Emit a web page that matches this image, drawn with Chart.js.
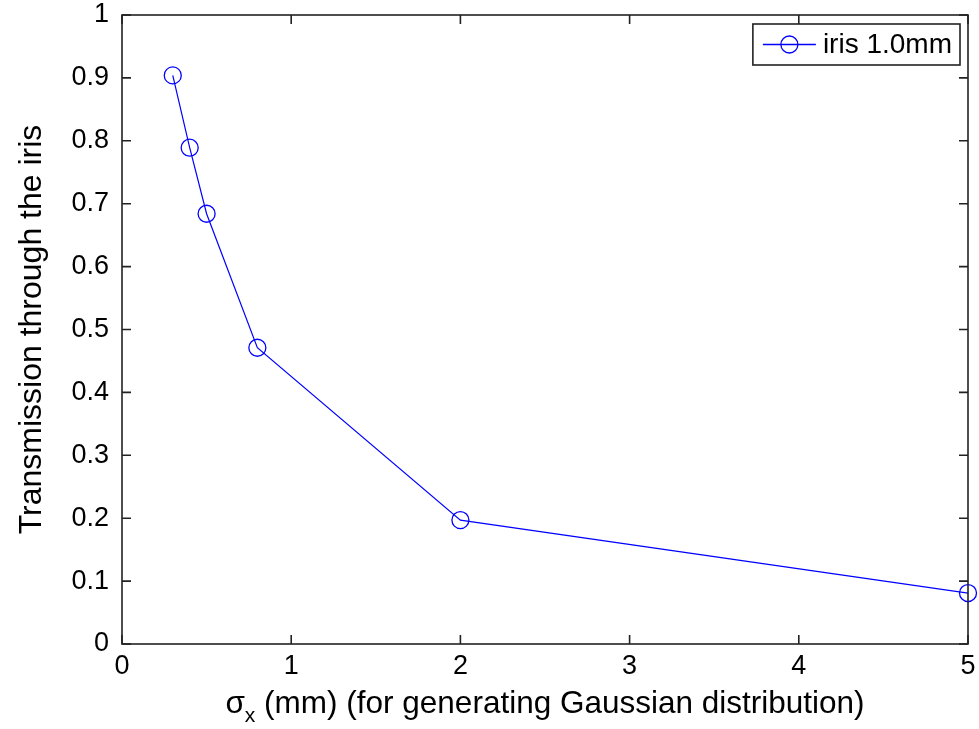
<!DOCTYPE html>
<html>
<head>
<meta charset="utf-8">
<script src="https://cdn.jsdelivr.net/npm/chart.js@4"></script>
<style>
  body { margin: 0; background: #fff; }
  #wrap { width: 979px; height: 729px; }
</style>
</head>
<body>
<div id="wrap"><canvas id="chart" width="979" height="729"></canvas></div>
<script>
// data
const sigmaX = [0.3, 0.4, 0.5, 0.8, 2, 5];
const transmission = [0.904, 0.789, 0.684, 0.471, 0.197, 0.081];
const xTicks = [0, 1, 2, 3, 4, 5];
const yTicks = [0, 0.1, 0.2, 0.3, 0.4, 0.5, 0.6, 0.7, 0.8, 0.9, 1];
const seriesLabel = "iris 1.0mm";
const yTitle = "Transmission through the iris";

const FONT = "'Liberation Sans', Arial, Helvetica, sans-serif";
Chart.defaults.font.family = FONT;
Chart.defaults.color = "#000";

// box round the axes with inward ticks on all four sides (matlab style)
const boxPlugin = {
    id: "box",
    afterDraw(c) {
        const ctx = c.ctx;
        const a = c.chartArea;
        const xs = c.scales.x, ys = c.scales.y;
        const tl = 9;
        ctx.save();
        ctx.strokeStyle = "#222";
        ctx.lineWidth = 1.6;
        ctx.strokeRect(a.left, a.top, a.right - a.left, a.bottom - a.top);
        ctx.beginPath();
        xTicks.forEach(v => {
            const px = xs.getPixelForValue(v);
            ctx.moveTo(px, a.bottom); ctx.lineTo(px, a.bottom - tl);
            ctx.moveTo(px, a.top); ctx.lineTo(px, a.top + tl);
        });
        yTicks.forEach(v => {
            const py = ys.getPixelForValue(v);
            ctx.moveTo(a.left, py); ctx.lineTo(a.left + tl, py);
            ctx.moveTo(a.right, py); ctx.lineTo(a.right - tl, py);
        });
        ctx.stroke();

        // x axis title with subscript
        const cx = (a.left + a.right) / 2;
        const base = 713;
        const big = "31.5px " + FONT, small = "21px " + FONT;
        const rest = " (mm) (for generating Gaussian distribution)";
        ctx.font = big;
        const wSig = ctx.measureText("\u03c3").width;
        const wRest = ctx.measureText(rest).width;
        ctx.font = small;
        const wSub = ctx.measureText("x").width;
        let x0 = cx - (wSig + wSub + wRest) / 2;
        ctx.fillStyle = "#000";
        ctx.textBaseline = "alphabetic";
        ctx.textAlign = "left";
        ctx.font = big;
        ctx.fillText("\u03c3", x0, base);
        ctx.font = small;
        ctx.fillText("x", x0 + wSig, base + 9);
        ctx.font = big;
        ctx.fillText(rest, x0 + wSig + wSub, base);

        // legend
        ctx.font = "28px " + FONT;
        const tw = ctx.measureText(seriesLabel).width;
        const bw = 70 + tw + 8, bh = 41;
        const bx = a.right - 8 - bw, by = a.top + 9;
        ctx.fillStyle = "#fff";
        ctx.fillRect(bx, by, bw, bh);
        ctx.strokeStyle = "#222";
        ctx.lineWidth = 1.6;
        ctx.strokeRect(bx, by, bw, bh);
        const my = by + bh / 2;
        ctx.strokeStyle = "#0000ff";
        ctx.lineWidth = 1.3;
        ctx.beginPath();
        ctx.moveTo(bx + 10, my); ctx.lineTo(bx + 63, my);
        ctx.stroke();
        ctx.beginPath();
        ctx.arc(bx + 36.5, my, 8.5, 0, Math.PI * 2);
        ctx.stroke();
        ctx.fillStyle = "#000";
        ctx.textBaseline = "middle";
        ctx.fillText(seriesLabel, bx + 70, my + 1);
        ctx.restore();
    }
};

new Chart(document.getElementById("chart"), {
    type: "scatter",
    data: {
        datasets: [{
            label: seriesLabel,
            data: sigmaX.map((x, i) => ({ x: x, y: transmission[i] })),
            showLine: true,
            borderColor: "#0000ff",
            borderWidth: 1.2,
            pointRadius: 8.5,
            pointBorderWidth: 1.3,
            pointBorderColor: "#0000ff",
            pointBackgroundColor: "rgba(0,0,0,0)",
            clip: false
        }]
    },
    options: {
        responsive: false,
        animation: false,
        events: [],
        layout: { padding: { top: 15, right: 11, left: 0, bottom: 0 } },
        plugins: { legend: { display: false }, tooltip: { enabled: false } },
        scales: {
            x: {
                type: "linear",
                min: 0, max: 5,
                afterBuildTicks: s => { s.ticks = xTicks.map(v => ({ value: v })); },
                afterFit: s => { s.height = 85; s.paddingLeft = 0; s.paddingRight = 0; },
                grid: { display: false, drawTicks: false },
                border: { display: false },
                ticks: { font: { size: 27 }, padding: 6, maxRotation: 0, autoSkip: false }
            },
            y: {
                type: "linear",
                min: 0, max: 1,
                afterBuildTicks: s => { s.ticks = yTicks.map(v => ({ value: v })); },
                afterFit: s => { s.width = 122; s.paddingTop = 0; s.paddingBottom = 0; },
                grid: { display: false, drawTicks: false },
                border: { display: false },
                ticks: {
                    font: { size: 27 }, padding: 13, autoSkip: false,
                    callback: v => String(Number(v.toFixed(1)))
                },
                title: {
                    display: true,
                    text: yTitle,
                    font: { size: 32 },
                    padding: { top: 13, bottom: 0 }
                }
            }
        }
    },
    plugins: [boxPlugin]
});
</script>
</body>
</html>
